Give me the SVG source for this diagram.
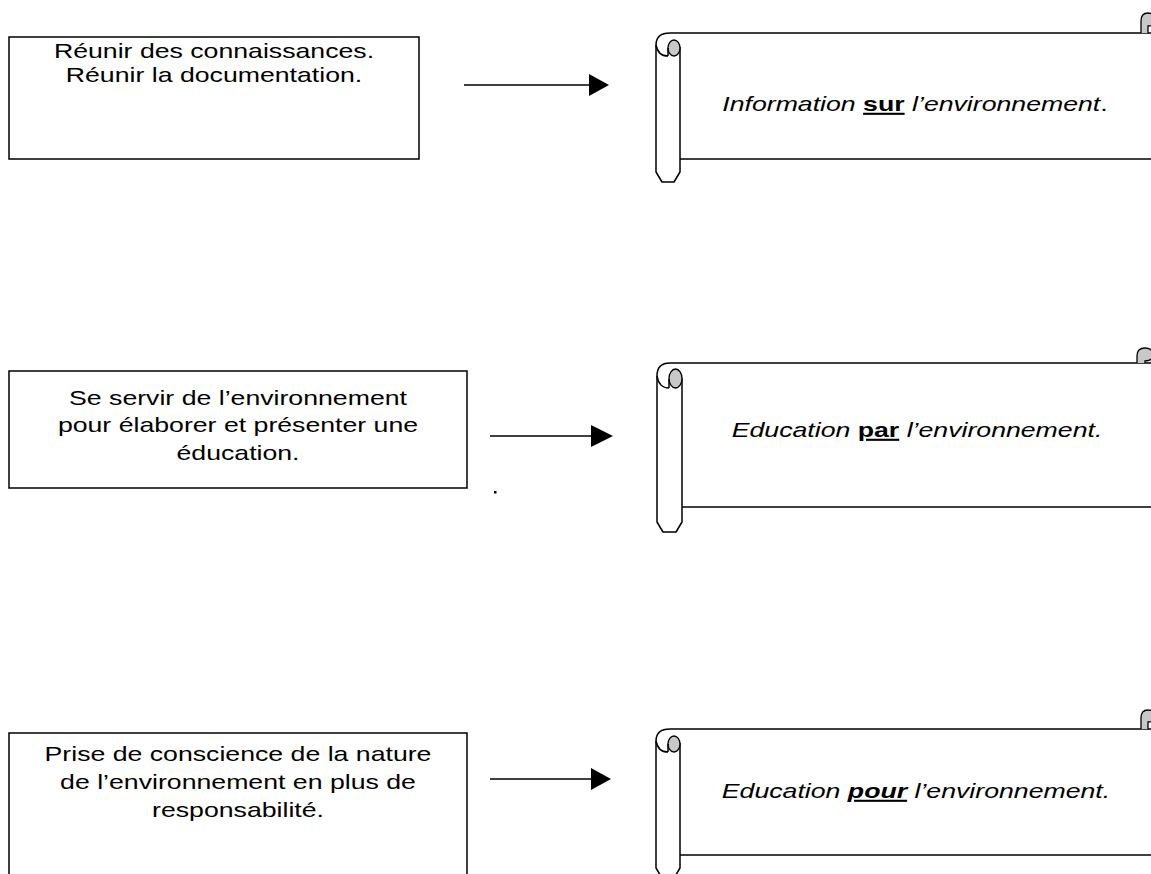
<svg xmlns="http://www.w3.org/2000/svg" width="1151" height="874" viewBox="0 0 1151 874">
  <style>
    .box { fill: #ffffff; stroke: #000000; stroke-width: 1.5; }
    .line { fill: none; stroke: #000000; stroke-width: 1.5; }
    .roll { fill: #ffffff; stroke: #000000; stroke-width: 1.5; stroke-linejoin: round; }
    .curl { fill: #c8c8c8; stroke: #000000; stroke-width: 1.3; }
    .conn { stroke: #000000; stroke-width: 1.5; fill: none; }
    .head { fill: #000000; }
    text { font-family: "Liberation Sans", Arial, sans-serif; font-size: 21px; fill: #000000; }
    .it { font-style: italic; }
    .kw { font-weight: bold; text-decoration: underline; }
  </style>

  <rect width="1151" height="874" fill="#ffffff"/>

  <!-- left-hand activity boxes -->
  <g id="box-reunir">
    <rect class="box" x="9" y="37" width="410" height="122"/>
    <g transform="translate(214,0) scale(1.27,1)">
      <text x="0" y="58" text-anchor="middle">Réunir des connaissances.</text>
      <text x="0" y="82" text-anchor="middle">Réunir la documentation.</text>
    </g>
  </g>

  <g id="box-servir">
    <rect class="box" x="9" y="371" width="458" height="117"/>
    <g transform="translate(238,0) scale(1.27,1)">
      <text x="0" y="405" text-anchor="middle">Se servir de l’environnement</text>
      <text x="0" y="432" text-anchor="middle">pour élaborer et présenter une</text>
      <text x="0" y="460" text-anchor="middle">éducation.</text>
    </g>
  </g>

  <g id="box-prise">
    <rect class="box" x="9" y="733" width="458" height="150"/>
    <g transform="translate(238,0) scale(1.27,1)">
      <text x="0" y="761" text-anchor="middle">Prise de conscience de la nature</text>
      <text x="0" y="789" text-anchor="middle">de l’environnement en plus de</text>
      <text x="0" y="817" text-anchor="middle">responsabilité.</text>
    </g>
  </g>

  <!-- connectors -->
  <g id="connectors">
    <line class="conn" x1="464" y1="85" x2="590" y2="85"/>
    <polygon class="head" points="589,74 609,85 589,96"/>
    <line class="conn" x1="490" y1="436" x2="592" y2="436"/>
    <polygon class="head" points="591,425 613,436 591,447"/>
    <line class="conn" x1="490" y1="779" x2="592" y2="779"/>
    <polygon class="head" points="591,768 611,779 591,790"/>
    <rect x="494" y="491" width="2.5" height="2.5" fill="#000000"/>
  </g>

  <!-- scroll banners -->
  <g id="scroll-sur">
    <path class="line" d="M656,45 Q656,33 670,33 L1151,33"/>
    <path class="line" d="M680,159 L1151,159"/>
    <path class="roll" d="M656,45 L656,172 L662,182 L674,182 L680,172 L680,47"/>
    <path class="line" d="M656,45 Q658,56 668,56"/>
    <ellipse class="curl" cx="674" cy="48" rx="6" ry="8"/>
    <path class="line" d="M668,48 L668,56"/>
    <path class="curl" d="M1141,33 L1141,21 Q1141,13 1148,13 Q1155,13 1155,20 Q1155,26 1148,26 L1148,33"/>
    <g transform="translate(915,111) scale(1.27,1)">
      <text x="0" y="0" text-anchor="middle"><tspan class="it">Information </tspan><tspan class="kw">sur</tspan><tspan class="it"> l’environnement</tspan>.</text>
    </g>
  </g>

  <g id="scroll-par">
    <path class="line" d="M657,376 Q657,363 670,363 L1151,363"/>
    <path class="line" d="M682,507 L1151,507"/>
    <path class="roll" d="M657,376 L657,522 L663,532 L676,532 L682,522 L682,378"/>
    <path class="line" d="M657,376 Q659,388 669,388"/>
    <ellipse class="curl" cx="675.5" cy="378.5" rx="6.5" ry="9.5"/>
    <path class="line" d="M669,379 L669,388"/>
    <path class="curl" d="M1137,363 L1137,356 Q1137,348 1145,348 Q1153,348 1153,355 Q1153,361 1145,361 L1145,363"/>
    <g transform="translate(917,437) scale(1.27,1)">
      <text x="0" y="0" text-anchor="middle" class="it">Education <tspan class="kw" font-style="normal">par</tspan> l’environnement.</text>
    </g>
  </g>

  <g id="scroll-pour">
    <path class="line" d="M656,741 Q656,729 670,729 L1151,729"/>
    <path class="line" d="M680,855 L1151,855"/>
    <path class="roll" d="M656,741 L656,868 L662,878 L674,878 L680,868 L680,743"/>
    <path class="line" d="M656,741 Q658,752 668,752"/>
    <ellipse class="curl" cx="674" cy="744" rx="6" ry="8"/>
    <path class="line" d="M668,744 L668,752"/>
    <path class="curl" d="M1141,729 L1141,718 Q1141,710 1148,710 Q1155,710 1155,716 Q1155,722 1148,722 L1148,729"/>
    <g transform="translate(916,798) scale(1.27,1)">
      <text x="0" y="0" text-anchor="middle" class="it">Education <tspan class="kw">pour</tspan> l’environnement.</text>
    </g>
  </g>
</svg>
